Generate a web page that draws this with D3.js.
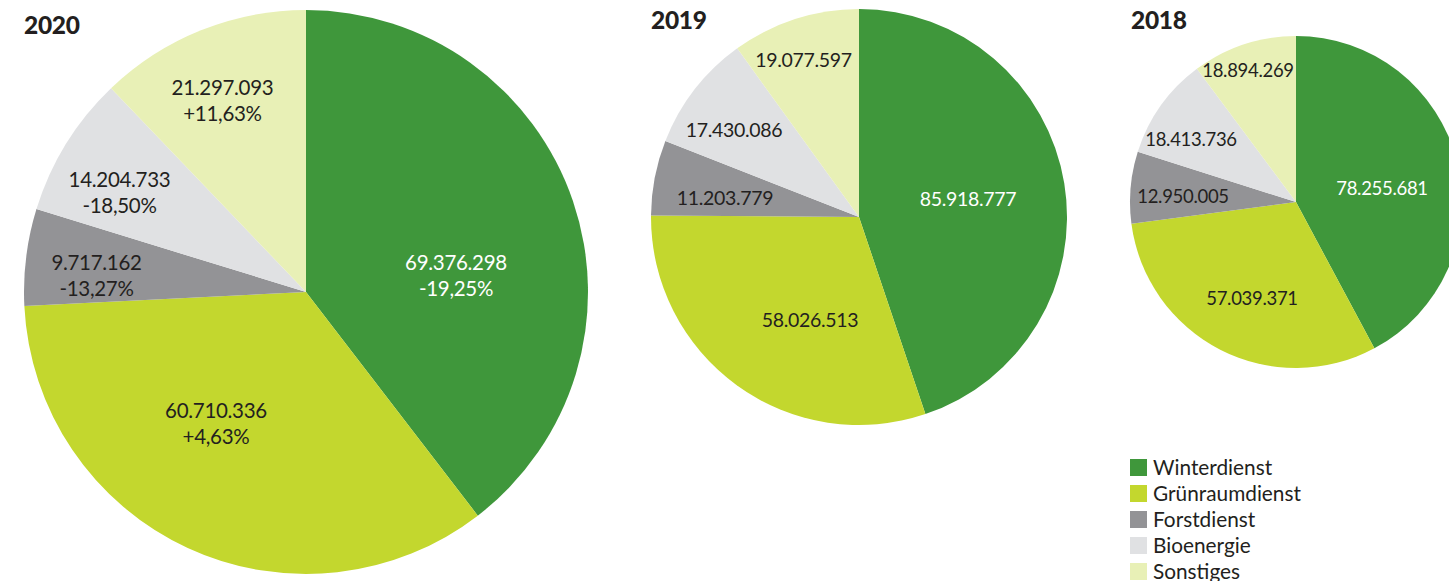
<!DOCTYPE html>
<html>
<head>
<meta charset="utf-8">
<script src="https://cdn.jsdelivr.net/npm/d3@7"></script>
<style>
  html, body { margin: 0; padding: 0; background: #fff; }
  svg { display: block; }
  text { font-family: Lato, "Open Sans", sans-serif; fill: #231f20; }
</style>
</head>
<body>
<svg id="chart" width="1449" height="581"></svg>
<script>
// Kategorien (Reihenfolge im Uhrzeigersinn ab 12 Uhr)
const categories = ["Winterdienst", "Grünraumdienst", "Forstdienst", "Bioenergie", "Sonstiges"];
const colors = ["#3f973b", "#c3d72e", "#939396", "#e0e1e3", "#e8f0b6"];

// Werte je Jahr
const values2020 = [69376298, 60710336, 9717162, 14204733, 21297093];
const values2019 = [85918777, 58026513, 11203779, 17430086, 19077597];
const values2018 = [78255681, 57039371, 12950005, 18413736, 18894269];

// Veränderung 2020 gegenüber Vorjahr
const changes2020 = ["-19,25%", "+4,63%", "-13,27%", "-18,50%", "+11,63%"];

const years = ["2020", "2019", "2018"];

// Layout der drei Kreise: Mittelpunkt, Radius, Schriftgröße, Titelposition
const layout = [
  { year: "2020", values: values2020, changes: changes2020, cx: 306, cy: 292, r: 282, fs: 20.5,
    title: [24, 34],
    labels: [[150, -22], [-90, 126], [-209.5, -22], [-186.5, -105], [-83.5, -197]] },
  { year: "2019", values: values2019, changes: null, cx: 859, cy: 217, r: 208, fs: 19.5,
    title: [651, 29],
    labels: [[109, -11], [-49, 110], [-134, -12], [-125, -80], [-55.5, -150]] },
  { year: "2018", values: values2018, changes: null, cx: 1296, cy: 202, r: 166, fs: 18.5,
    title: [1131, 29],
    labels: [[86, -7], [-44, 103], [-113, 1], [-105, -56], [-48, -125]] }
];

const svg = d3.select("#chart");
const color = d3.scaleOrdinal().domain(categories).range(colors);
const fmt = d3.formatLocale({ decimal: ",", thousands: ".", grouping: [3], currency: ["", "€"] }).format(",d");

const pie = d3.pie().sort(null).value(d => d.value);

layout.forEach(p => {
  const data = categories.map((c, i) => ({ category: c, value: p.values[i], change: p.changes ? p.changes[i] : null }));
  const arc = d3.arc().innerRadius(0).outerRadius(p.r);
  const g = svg.append("g").attr("transform", `translate(${p.cx},${p.cy})`);

  g.selectAll("path")
    .data(pie(data))
    .join("path")
    .attr("d", arc)
    .attr("fill", d => color(d.data.category));

  const lineGap = p.fs * 1.25;
  const lbl = g.selectAll("text.val")
    .data(pie(data))
    .join("text")
    .attr("class", "val")
    .attr("text-anchor", "middle")
    .attr("font-size", p.fs)
    .style("letter-spacing", "-0.3px")
    .style("fill", (d, i) => i === 0 ? "#ffffff" : "#231f20")
    .attr("transform", (d, i) => `translate(${p.labels[i][0]},${p.labels[i][1]})`);

  lbl.append("tspan").attr("x", 0).attr("y", 0).text(d => fmt(d.data.value));
  lbl.filter(d => d.data.change)
    .append("tspan").attr("x", 0).attr("y", lineGap).text(d => d.data.change);

  svg.append("text")
    .attr("x", p.title[0]).attr("y", p.title[1])
    .attr("font-size", 24.5).attr("font-weight", 900)
    .style("letter-spacing", "-0.3px")
    .text(p.year);
});

// Legende
const legend = svg.append("g").attr("transform", "translate(1130,459)");
const items = legend.selectAll("g")
  .data(categories)
  .join("g")
  .attr("transform", (d, i) => `translate(0,${i * 26})`);
items.append("rect").attr("width", 17).attr("height", 17).attr("fill", d => color(d));
items.append("text").attr("x", 23).attr("y", 15.5).attr("font-size", 20.8).text(d => d);
</script>
</body>
</html>
